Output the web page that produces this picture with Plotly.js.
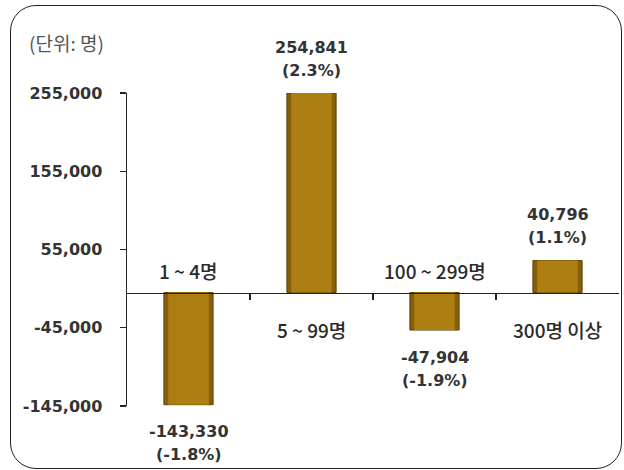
<!DOCTYPE html>
<html>
<head>
<meta charset="utf-8">
<script src="https://cdn.plot.ly/plotly-3.0.1.min.js"></script>
<style>
html,body{margin:0;padding:0;background:#fff;}
#wrap{position:relative;width:624px;height:470px;}
#chart{position:absolute;left:0;top:0;width:624px;height:470px;}
#frame{position:absolute;left:10px;top:5px;width:612px;height:464px;border:1.6px solid #222;border-radius:26px;pointer-events:none;box-sizing:border-box;}
</style>
</head>
<body>
<div id="wrap"><div id="chart"></div><div id="frame"></div></div>
<script>
const categories = ["1 ~ 4명", "5 ~ 99명", "100 ~ 299명", "300명 이상"];
const changes = [-143330, 254841, -47904, 40796];
const percents = ["-1.8%", "2.3%", "-1.9%", "1.1%"];
const yTicks = [255000, 155000, 55000, -45000, -145000];
const unitLabel = "(단위: 명)";

const FONT = "'DejaVu Sans', 'Noto Sans CJK KR', sans-serif";
const KFONT = "'Noto Sans CJK KR', 'DejaVu Sans', sans-serif";
const xs = categories.map((c, i) => i);
const fmt = v => v.toLocaleString('en-US');

const outer = {
  type: 'bar', x: xs, y: changes, width: 0.4,
  marker: {color: '#85600c', line: {color: '#5e4003', width: 1}},
  hoverinfo: 'skip'
};
const inner = {
  type: 'bar', x: xs, y: changes, width: 0.33,
  marker: {color: '#ad7e12', line: {width: 0}},
  hoverinfo: 'skip'
};

const annotations = [];
changes.forEach((v, i) => {
  const pos = v >= 0;
  annotations.push({
    x: i, y: v, xref: 'x', yref: 'y', showarrow: false,
    text: '<b>' + fmt(v) + '</b>', yanchor: 'middle',
    yshift: pos ? 46 : -27,
    font: {family: FONT, size: 16, color: '#333'}
  });
  annotations.push({
    x: i, y: v, xref: 'x', yref: 'y', showarrow: false,
    text: '<b>(' + percents[i] + ')</b>', yanchor: 'middle',
    yshift: pos ? 23 : -50,
    font: {family: FONT, size: 16, color: '#333'}
  });
  annotations.push({
    x: i, y: 0, xref: 'x', yref: 'y', showarrow: false,
    text: categories[i], yanchor: 'middle',
    yshift: pos ? -37 : 22,
    font: {family: KFONT, size: 19, color: '#2a2a2a', weight: 500}
  });
});
annotations.push({
  x: (27 - 127) / 492, y: (406 - 42) / 313, xref: 'paper', yref: 'paper', showarrow: false,
  text: unitLabel, xanchor: 'left', yanchor: 'middle',
  font: {family: KFONT, size: 19, color: '#555'}
});

const layout = {
  width: 624, height: 470,
  margin: {l: 127, r: 5, t: 93, b: 64, pad: 0},
  paper_bgcolor: '#fff', plot_bgcolor: '#fff',
  showlegend: false, barmode: 'overlay',
  font: {family: FONT, color: '#333'},
  xaxis: {
    range: [-0.5, 3.5], anchor: 'free', position: 145000 / 400000,
    showline: true, linecolor: '#222', linewidth: 1.5,
    ticks: 'outside', ticklen: 6, tickwidth: 1.2, tickcolor: '#222',
    tickvals: [0.5, 1.5, 2.5], showticklabels: false,
    showgrid: false, zeroline: false, fixedrange: true
  },
  yaxis: {
    range: [-145000, 255000], tickvals: yTicks,
    ticktext: yTicks.map(fmt),
    showline: true, linecolor: '#222', linewidth: 1.5,
    ticks: 'outside', ticklen: 6, tickwidth: 1.2, tickcolor: '#222',
    ticklabelstandoff: 14,
    tickfont: {family: FONT, size: 16, color: '#333', weight: 'bold'},
    showgrid: false, zeroline: false, fixedrange: true
  },
  annotations: annotations
};

Plotly.newPlot('chart', [outer, inner], layout, {displayModeBar: false, staticPlot: true});
</script>
</body>
</html>
